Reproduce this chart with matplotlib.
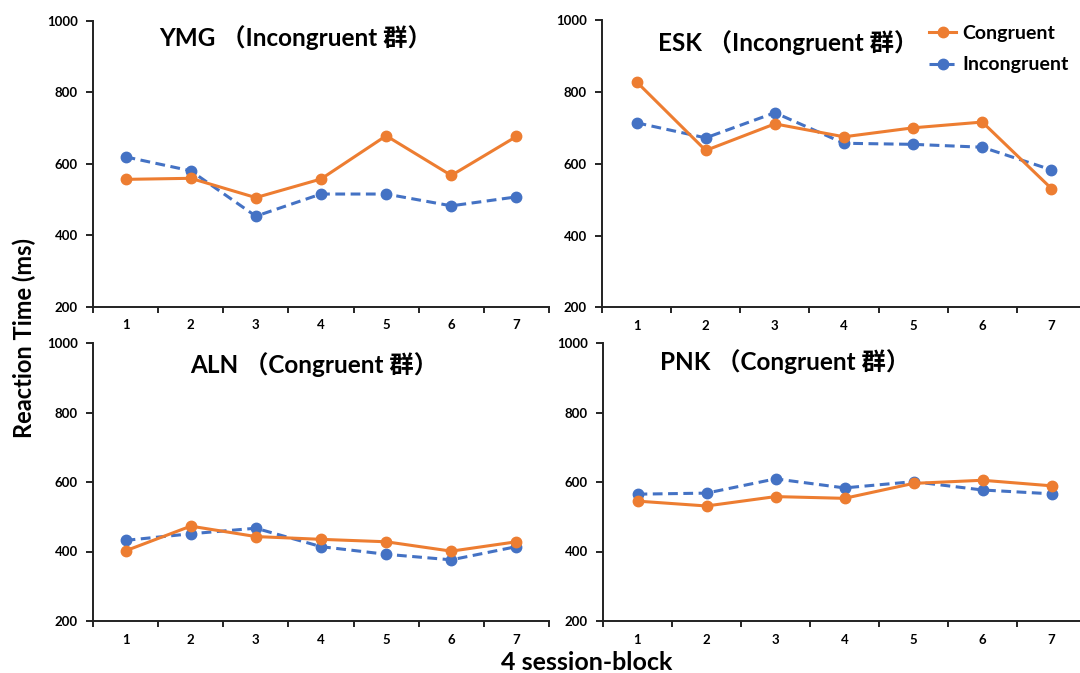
import numpy as np
import matplotlib.pyplot as plt

FONT = ['Lato', 'Noto Sans CJK SC', 'DejaVu Sans']
plt.rcParams['font.family'] = FONT
plt.rcParams['font.weight'] = 'bold'

blocks = [1, 2, 3, 4, 5, 6, 7]
titles = ['YMG （Incongruent 群）', 'ESK （Incongruent 群）',
          'ALN （Congruent 群）', 'PNK （Congruent 群）']

ymg_con = [557, 560, 506, 558, 679, 568, 677]
ymg_inc = [620, 581, 454, 516, 516, 483, 508]
esk_con = [828, 637, 711, 675, 700, 716, 531]
esk_inc = [714, 672, 742, 657, 654, 646, 583]
aln_con = [402, 473, 443, 435, 428, 401, 428]
aln_inc = [432, 451, 467, 414, 392, 376, 414]
pnk_con = [545, 531, 558, 553, 596, 605, 589]
pnk_inc = [565, 568, 609, 583, 601, 577, 566]

con_data = [ymg_con, esk_con, aln_con, pnk_con]
inc_data = [ymg_inc, esk_inc, aln_inc, pnk_inc]

ORANGE = '#ED7D31'
BLUE = '#4472C4'

W, H = 1080, 673
fig = plt.figure(figsize=(W / 100, H / 100), dpi=100)

# axes boxes in pixels: left, top, right, bottom
boxes = [(93, 21, 549, 307), (602, 20, 1086, 307.5),
         (93, 343, 549, 621), (603, 343, 1086, 621)]
# title centres in pixels
title_px = [(295, 38), (788, 43), (314, 365), (785, 362)]

axes = []
for i, (l, t, r, b) in enumerate(boxes):
    ax = fig.add_axes([l / W, 1 - b / H, (r - l) / W, (b - t) / H])
    x = np.array(blocks)
    ax.plot(x, con_data[i], color=ORANGE, lw=2.2, marker='o', ms=7.5,
            label='Congruent', zorder=3)
    ax.plot(x, inc_data[i], color=BLUE, lw=2.2, marker='o', ms=7.5,
            dashes=(3.2, 1.8), label='Incongruent', zorder=2)
    ax.set_xlim(0.5, 7.5)
    ax.set_ylim(200, 1000)
    ax.set_yticks([200, 400, 600, 800, 1000])
    ax.set_xticks(np.arange(0.5, 8, 1))
    ax.set_xticklabels([])
    ax.set_xticks(blocks, minor=True)
    ax.set_xticklabels([str(v) for v in blocks], minor=True)
    ax.tick_params(axis='x', which='minor', length=0, pad=9)
    ax.tick_params(axis='x', which='major', length=4, width=1.2, direction='out')
    ax.tick_params(axis='y', length=5, width=1.2, direction='out', pad=6)
    for lab in ax.get_xticklabels(minor=True) + ax.get_yticklabels():
        lab.set_fontsize(9.5)
        lab.set_fontweight('bold')
    for s in ['top', 'right']:
        ax.spines[s].set_visible(False)
    for s in ['left', 'bottom']:
        ax.spines[s].set_linewidth(1.4)
        ax.spines[s].set_color('#222222')
    tx, ty = title_px[i]
    fig.text(tx / W, 1 - ty / H, titles[i], ha='center', va='center',
             fontsize=17.5, fontweight='bold', family=FONT)
    axes.append(ax)

leg = axes[1].legend(loc='upper left', bbox_to_anchor=(0.66, 1.01), frameon=False,
                     prop={'family': FONT, 'weight': 'bold', 'size': 14},
                     handlelength=1.4, handletextpad=0.3, labelspacing=0.75,
                     borderaxespad=0)

fig.text(24 / W, 1 - 338 / H, 'Reaction Time (ms)', rotation=90, ha='center',
         va='center', fontsize=17, fontweight='bold')
fig.text(587 / W, 1 - 662 / H, '4 session-block', ha='center', va='center',
         fontsize=18, fontweight='bold')

fig.savefig('out.png', dpi=100)
